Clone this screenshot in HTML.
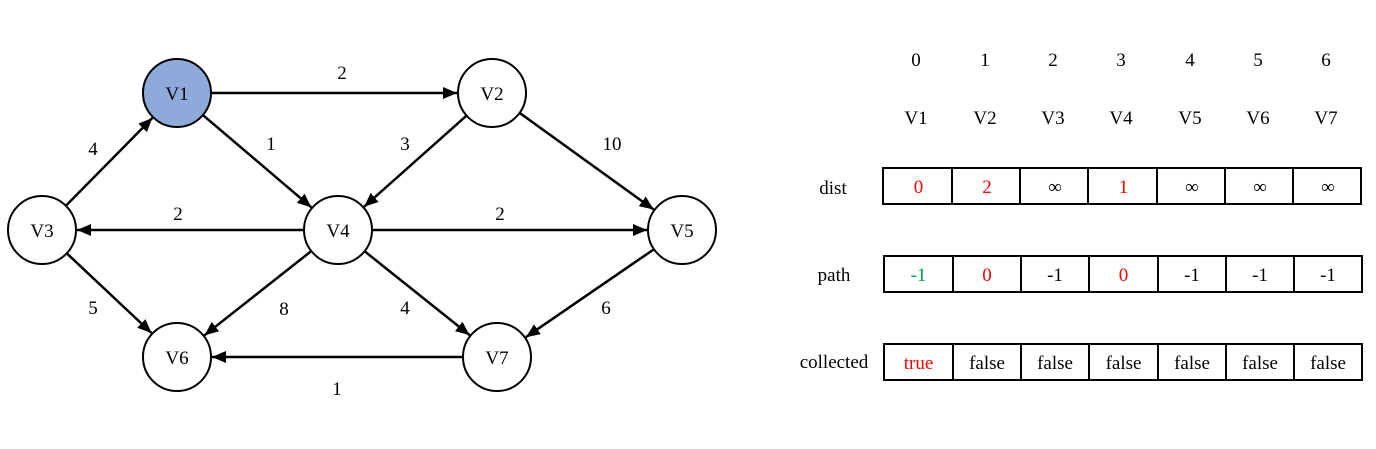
<!DOCTYPE html>
<html><head><meta charset="utf-8"><style>
html,body{margin:0;padding:0;background:#fff;}
svg text{font-family:"Liberation Serif",serif;font-size:19px;}
</style></head><body>
<svg id="s" width="1376" height="444" viewBox="0 0 1376 444" xmlns="http://www.w3.org/2000/svg">
<defs><marker id="a" markerWidth="14" markerHeight="12" refX="14" refY="6" orient="auto" markerUnits="userSpaceOnUse"><path d="M0,0 L14,6 L0,12 Z" fill="#000"/></marker></defs>
<g id="edges" stroke="#000" stroke-width="2.5" fill="none"></g>
<g id="nodes"></g>
<g text-anchor="middle">
<text x="342" y="79">2</text>
<text x="271" y="150">1</text>
<text x="405" y="150">3</text>
<text x="612" y="150">10</text>
<text x="93" y="155">4</text>
<text x="178" y="220">2</text>
<text x="500" y="220">2</text>
<text x="93" y="314">5</text>
<text x="284" y="315">8</text>
<text x="405" y="314">4</text>
<text x="606" y="314">6</text>
<text x="337" y="395">1</text>
</g>
<g text-anchor="middle">
<text x="916" y="66">0</text><text x="985" y="66">1</text><text x="1053" y="66">2</text><text x="1121" y="66">3</text><text x="1190" y="66">4</text><text x="1258" y="66">5</text><text x="1326" y="66">6</text>
<text x="916" y="124">V1</text><text x="985" y="124">V2</text><text x="1053" y="124">V3</text><text x="1121" y="124">V4</text><text x="1190" y="124">V5</text><text x="1258" y="124">V6</text><text x="1326" y="124">V7</text>
<text x="833" y="194">dist</text><text x="834" y="281">path</text><text x="834" y="368">collected</text>
</g>
<g id="tbl" stroke="#000" stroke-width="2" fill="#fff"></g>
</svg>
<script>
var N={V1:[177,93],V2:[492,93],V3:[42,230],V4:[338,230],V5:[682,230],V6:[177,357],V7:[497,357]},R=34,ns="http://www.w3.org/2000/svg";
var E=[["V1","V2"],["V1","V4"],["V2","V4"],["V2","V5"],["V3","V1"],["V4","V3"],["V4","V5"],["V3","V6"],["V4","V6"],["V4","V7"],["V5","V7"],["V7","V6"]];
var eg=document.getElementById("edges");
E.forEach(function(e){var a=N[e[0]],b=N[e[1]],dx=b[0]-a[0],dy=b[1]-a[1],d=Math.hypot(dx,dy),ux=dx/d,uy=dy/d;
var l=document.createElementNS(ns,"line");l.setAttribute("x1",a[0]+ux*R);l.setAttribute("y1",a[1]+uy*R);l.setAttribute("x2",b[0]-ux*(R+1));l.setAttribute("y2",b[1]-uy*(R+1));l.setAttribute("marker-end","url(#a)");eg.appendChild(l);});
var ng=document.getElementById("nodes");
for(var k in N){var c=document.createElementNS(ns,"circle");c.setAttribute("cx",N[k][0]);c.setAttribute("cy",N[k][1]);c.setAttribute("r",R);c.setAttribute("fill",k=="V1"?"#8eaadb":"#fff");c.setAttribute("stroke","#000");c.setAttribute("stroke-width","2");ng.appendChild(c);
var t=document.createElementNS(ns,"text");t.setAttribute("x",N[k][0]);t.setAttribute("y",N[k][1]+7);t.setAttribute("text-anchor","middle");t.textContent=k;ng.appendChild(t);}
var xs=[883,952,1020,1088,1157,1225,1293,1361];
var rows=[[168,["0","2","∞","1","∞","∞","∞"],["red","red","#000","red","#000","#000","#000"]],
[256,["-1","0","-1","0","-1","-1","-1"],["#00a050","red","#000","red","#000","#000","#000"]],
[344,["true","false","false","false","false","false","false"],["red","#000","#000","#000","#000","#000","#000"]]];
var tg=document.getElementById("tbl");
rows.forEach(function(r){for(var i=0;i<7;i++){var rc=document.createElementNS(ns,"rect");rc.setAttribute("x",xs[i]+(r[0]>200?1:0));rc.setAttribute("y",r[0]);rc.setAttribute("width",xs[i+1]-xs[i]);rc.setAttribute("height",36);tg.appendChild(rc);
var t=document.createElementNS(ns,"text");t.setAttribute("x",(xs[i]+xs[i+1])/2+1);t.setAttribute("y",r[0]+25);t.setAttribute("text-anchor","middle");t.setAttribute("fill",r[2][i]);t.setAttribute("stroke","none");t.textContent=r[1][i];tg.appendChild(t);}});
</script>
</body></html>
